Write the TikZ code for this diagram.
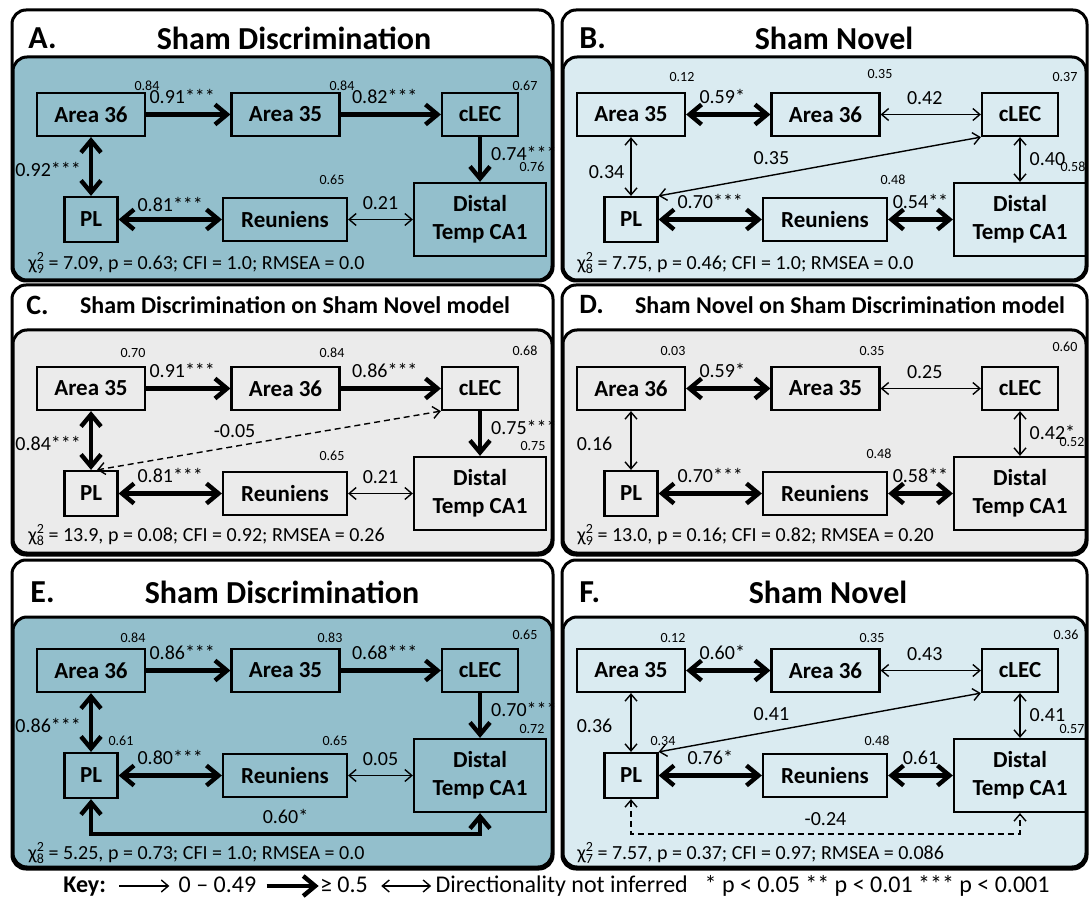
\documentclass[tikz,border=0pt]{standalone}
\usepackage{fontspec}
\setmainfont{Carlito}
\usetikzlibrary{arrows.meta,positioning}

\definecolor{discfill}{RGB}{147,191,204}
\definecolor{novelfill}{RGB}{218,235,241}
\definecolor{crossfill}{RGB}{235,235,235}

% chi-square with stacked df
\newcommand\chisq[1]{χ\rlap{\raisebox{0.8ex}{\fontsize{7}{8}\selectfont 2}}%
  \raisebox{-0.45ex}{\fontsize{7}{8}\selectfont #1}}

\tikzset{
  outerbox/.style={draw, line width=1.5pt, rounded corners=7pt, fill=white},
  modelbox/.style={draw, line width=1.5pt, rounded corners=7pt},
  region/.style={draw, line width=1.1pt, inner sep=0pt, align=center,
    font=\fontsize{11.5}{14}\selectfont\bfseries},
  areabox/.style={region, minimum width=54pt, minimum height=21.5pt},
  lecbox/.style={region, minimum width=38pt, minimum height=21.5pt},
  plbox/.style={region, minimum width=26.5pt, minimum height=22.5pt},
  reubox/.style={region, minimum width=62pt, minimum height=21.5pt},
  cabox/.style={region, minimum width=66pt, minimum height=36.5pt},
  rsq/.style={inner sep=0pt, font=\fontsize{7}{8}\selectfont},
  coef/.style={inner sep=1pt, font=\fontsize{10}{12}\selectfont},
  fitstat/.style={anchor=west, inner sep=0pt, font=\fontsize{10}{12}\selectfont},
  bigtitle/.style={inner sep=0pt, font=\fontsize{16}{19}\selectfont\bfseries},
  subtitle/.style={inner sep=0pt, font=\fontsize{12}{14}\selectfont\bfseries},
  letter/.style={anchor=west, inner sep=0pt, font=\fontsize{16}{19}\selectfont\bfseries},
  keytext/.style={inner sep=0pt, text height=8.5pt, text depth=2.5pt,
    font=\fontsize{12}{14}\selectfont},
  strong/.style={line width=2.2pt, >={Straight Barb[length=6pt,width=10pt]}},
  weak/.style={line width=0.7pt, >={Straight Barb[length=3.5pt,width=6pt]}},
  nonsig/.style={weak, dash pattern=on 3pt off 2pt},
}

\begin{document}
\begin{tikzpicture}[x=0.5pt, y=-0.5pt]
\useasboundingbox (0,0) rectangle (1089,904);

% ---- A: sham discrimination
\begin{scope}
  \draw[outerbox] (12,10) rectangle (553,281);
  \draw[modelbox, fill=discfill] (13,57) rectangle (552,280);
  \node[letter] (A-tag) at (28,38) {A.};
  \node[bigtitle] (A-title) at (294,38) {Sham Discrimination};
  \node[areabox] (A-a36) at (91,114.5) {Area 36};
  \node[areabox] (A-a35) at (285.5,114.5) {Area 35};
  \node[lecbox] (A-clec) at (480,114.5) {cLEC};
  \node[plbox] (A-pl) at (91,219.5) {PL};
  \node[reubox] (A-reu) at (285,219.5) {Reuniens};
  \node[cabox] (A-ca1) at (480,219.5) {Distal\\Temp CA1};
  \node[rsq] (A-r36) at (147,86) {0.84};
  \node[rsq] (A-r35) at (342,86) {0.84};
  \node[rsq] (A-rlec) at (525,86) {0.67};
  \node[rsq] (A-rreu) at (332,180) {0.65};
  \node[rsq] (A-rca1) at (532,167) {0.76};
  \draw[strong,->] (A-a36) -- node[coef,above=3.5pt,xshift=-3pt] {0.91***} (A-a35);
  \draw[strong,->] (A-a35) -- node[coef,above=3.5pt,xshift=-3pt] {0.82***} (A-clec);
  \draw[strong,<->] (A-a36) -- node[coef,left=3pt,pos=0.55] {0.92***} (A-pl);
  \draw[strong,->] (A-clec) -- node[coef,right=3.5pt,pos=0.37] {0.74***} (A-ca1);
  \draw[strong,<->] (A-pl) -- node[coef,above=2pt] {0.81***} (A-reu);
  \draw[weak,<->] (A-reu) -- node[coef,above=3.5pt] {0.21} (A-ca1);
  \node[fitstat] (A-fit) at (28,263) {\chisq{9} = 7.09, p = 0.63; CFI = 1.0; RMSEA = 0.0};
\end{scope}

% ---- B: sham novel
\begin{scope}[shift={(540,0)}]
  \draw[outerbox] (22,10) rectangle (547,281);
  \draw[modelbox, fill=novelfill] (23,57) rectangle (546,280);
  \node[letter] (B-tag) at (39,38) {B.};
  \node[bigtitle] (B-title) at (294,38) {Sham Novel};
  \node[areabox] (B-a35) at (91,114.5) {Area 35};
  \node[areabox] (B-a36) at (285.5,114.5) {Area 36};
  \node[lecbox] (B-clec) at (480,114.5) {cLEC};
  \node[plbox] (B-pl) at (91,219.5) {PL};
  \node[reubox] (B-reu) at (285,219.5) {Reuniens};
  \node[cabox] (B-ca1) at (480,219.5) {Distal\\Temp CA1};
  \node[rsq] (B-r35) at (142,77) {0.12};
  \node[rsq] (B-r36) at (340,74) {0.35};
  \node[rsq] (B-rlec) at (525,77) {0.37};
  \node[rsq] (B-rreu) at (353,180) {0.48};
  \node[rsq] (B-rca1) at (533,167) {0.58};
  \draw[strong,<->] (B-a35) -- node[coef,above=3.5pt,xshift=-3pt] {0.59*} (B-a36);
  \draw[weak,<->] (B-a36) -- node[coef,above=3.5pt,xshift=-3pt] {0.42} (B-clec);
  \draw[weak,<->] (B-a35) -- node[coef,left=2pt,pos=0.6] {0.34} (B-pl);
  \draw[weak,<->] (B-clec) -- node[coef,right=3.5pt,pos=0.5] {0.40} (B-ca1);
  \draw[weak,<->] (B-clec.south west) -- node[coef,above=4pt,pos=0.65] {0.35} (B-pl.north east);
  \draw[strong,<->] (B-pl) -- node[coef,above=3.5pt] {0.70***} (B-reu);
  \draw[strong,<->] (B-reu) -- node[coef,above=3.5pt] {0.54**} (B-ca1);
  \node[fitstat] (B-fit) at (37,263) {\chisq{8} = 7.75, p = 0.46; CFI = 1.0; RMSEA = 0.0};
\end{scope}

% ---- C: discrimination data on novel model
\begin{scope}[shift={(0,274)}]
  \draw[outerbox] (12,11) rectangle (553,281);
  \draw[modelbox, fill=crossfill] (13,56) rectangle (552,279);
  \node[letter, font=\fontsize{14}{17}\selectfont\bfseries] (C-tag) at (26,31) {C.};
  \node[subtitle] (C-title) at (295,31) {Sham Discrimination on Sham Novel model};
  \node[areabox] (C-a35) at (91,114.5) {Area 35};
  \node[areabox] (C-a36) at (285.5,114.5) {Area 36};
  \node[lecbox] (C-clec) at (480,114.5) {cLEC};
  \node[plbox] (C-pl) at (91,219.5) {PL};
  \node[reubox] (C-reu) at (285,219.5) {Reuniens};
  \node[cabox] (C-ca1) at (480,219.5) {Distal\\Temp CA1};
  \node[rsq] (C-r35) at (133,79) {0.70};
  \node[rsq] (C-r36) at (332,79) {0.84};
  \node[rsq] (C-rlec) at (525,77) {0.68};
  \node[rsq] (C-rreu) at (332,182) {0.65};
  \node[rsq] (C-rca1) at (533,172) {0.75};
  \draw[strong,->] (C-a35) -- node[coef,above=3.5pt,xshift=-3pt] {0.91***} (C-a36);
  \draw[strong,->] (C-a36) -- node[coef,above=3.5pt,xshift=-3pt] {0.86***} (C-clec);
  \draw[strong,<->] (C-a35) -- node[coef,left=3pt,pos=0.55] {0.84***} (C-pl);
  \draw[strong,->] (C-clec) -- node[coef,right=3.5pt,pos=0.37] {0.75***} (C-ca1);
  \draw[nonsig,<->] (C-clec.south west) -- node[coef,above=3pt,pos=0.6] {-0.05} ([xshift=3pt]C-pl.north);
  \draw[strong,<->] (C-pl) -- node[coef,above=3.5pt] {0.81***} (C-reu);
  \draw[weak,<->] (C-reu) -- node[coef,above=3.5pt] {0.21} (C-ca1);
  \node[fitstat] (C-fit) at (28,261) {\chisq{8} = 13.9, p = 0.08; CFI = 0.92; RMSEA = 0.26};
\end{scope}

% ---- D: novel data on discrimination model
\begin{scope}[shift={(540,274)}]
  \draw[outerbox] (22,11) rectangle (547,281);
  \draw[modelbox, fill=crossfill] (23,56) rectangle (546,279);
  \node[letter, font=\fontsize{14}{17}\selectfont\bfseries] (D-tag) at (39,31) {D.};
  \node[subtitle] (D-title) at (310,31) {Sham Novel on Sham Discrimination model};
  \node[areabox] (D-a36) at (91,114.5) {Area 36};
  \node[areabox] (D-a35) at (285.5,114.5) {Area 35};
  \node[lecbox] (D-clec) at (480,114.5) {cLEC};
  \node[plbox] (D-pl) at (91,219.5) {PL};
  \node[reubox] (D-reu) at (285,219.5) {Reuniens};
  \node[cabox] (D-ca1) at (480,219.5) {Distal\\Temp CA1};
  \node[rsq] (D-r36) at (133,77) {0.03};
  \node[rsq] (D-r35) at (332,77) {0.35};
  \node[rsq] (D-rlec) at (525,73) {0.60};
  \node[rsq] (D-rreu) at (339,180) {0.48};
  \node[rsq] (D-rca1) at (532,168) {0.52};
  \draw[strong,<->] (D-a36) -- node[coef,above=3.5pt,xshift=-3pt] {0.59*} (D-a35);
  \draw[weak,<->] (D-a35) -- node[coef,above=3.5pt,xshift=-3pt] {0.25} (D-clec);
  \draw[weak,<->] (D-a36) -- node[coef,left=8pt,pos=0.55] {0.16} (D-pl);
  \draw[weak,<->] (D-clec) -- node[coef,right=3.5pt,pos=0.48] {0.42*} (D-ca1);
  \draw[strong,<->] (D-pl) -- node[coef,above=3.5pt] {0.70***} (D-reu);
  \draw[strong,<->] (D-reu) -- node[coef,above=3.5pt] {0.58**} (D-ca1);
  \node[fitstat] (D-fit) at (37,261) {\chisq{9} = 13.0, p = 0.16; CFI = 0.82; RMSEA = 0.20};
\end{scope}

% ---- E: sham discrimination, with PL-CA1 path
\begin{scope}[shift={(0,556)}]
  \draw[outerbox] (12,4) rectangle (553,313);
  \draw[modelbox, fill=discfill] (13,61) rectangle (552,311);
  \node[letter] (E-tag) at (30,36) {E.};
  \node[bigtitle] (E-title) at (282,36) {Sham Discrimination};
  \node[areabox] (E-a36) at (91,114.5) {Area 36};
  \node[areabox] (E-a35) at (285.5,114.5) {Area 35};
  \node[lecbox] (E-clec) at (480,114.5) {cLEC};
  \node[plbox] (E-pl) at (91,219.5) {PL};
  \node[reubox] (E-reu) at (285,219.5) {Reuniens};
  \node[cabox] (E-ca1) at (480,219.5) {Distal\\Temp CA1};
  \node[rsq] (E-r36) at (133,82) {0.84};
  \node[rsq] (E-r35) at (330,82) {0.83};
  \node[rsq] (E-rlec) at (525,79) {0.65};
  \node[rsq] (E-rpl) at (121,185) {0.61};
  \node[rsq] (E-rreu) at (335,185) {0.65};
  \node[rsq] (E-rca1) at (532,173) {0.72};
  \coordinate (E-low) at (91,278);
  \draw[strong,->] (E-a36) -- node[coef,above=3.5pt,xshift=-3pt] {0.86***} (E-a35);
  \draw[strong,->] (E-a35) -- node[coef,above=3.5pt,xshift=-3pt] {0.68***} (E-clec);
  \draw[strong,<->] (E-a36) -- node[coef,left=3pt,pos=0.55] {0.86***} (E-pl);
  \draw[strong,->] (E-clec) -- node[coef,right=3.5pt,pos=0.37] {0.70***} (E-ca1);
  \draw[strong,<->] (E-pl) -- node[coef,above=3.5pt] {0.80***} (E-reu);
  \draw[weak,<->] (E-reu) -- node[coef,above=3.5pt] {0.05} (E-ca1);
  \draw[strong,<->] (E-pl.south) -- (E-low) -| node[coef,pos=0.25,above=3pt] {0.60*} (E-ca1.south);
  \node[fitstat] (E-fit) at (28,297) {\chisq{8} = 5.25, p = 0.73; CFI = 1.0; RMSEA = 0.0};
\end{scope}

% ---- F: sham novel, with PL-CA1 path
\begin{scope}[shift={(540,556)}]
  \draw[outerbox] (22,4) rectangle (547,313);
  \draw[modelbox, fill=novelfill] (23,61) rectangle (546,311);
  \node[letter] (F-tag) at (39,36) {F.};
  \node[bigtitle] (F-title) at (288,36) {Sham Novel};
  \node[areabox] (F-a35) at (91,114.5) {Area 35};
  \node[areabox] (F-a36) at (285.5,114.5) {Area 36};
  \node[lecbox] (F-clec) at (480,114.5) {cLEC};
  \node[plbox] (F-pl) at (91,219.5) {PL};
  \node[reubox] (F-reu) at (285,219.5) {Reuniens};
  \node[cabox] (F-ca1) at (480,219.5) {Distal\\Temp CA1};
  \node[rsq] (F-r35) at (133,82) {0.12};
  \node[rsq] (F-r36) at (332,82) {0.35};
  \node[rsq] (F-rlec) at (526,79) {0.36};
  \node[rsq] (F-rpl) at (123,185) {0.34};
  \node[rsq] (F-rreu) at (337,185) {0.48};
  \node[rsq] (F-rca1) at (532,173) {0.57};
  \coordinate (F-low) at (91,278);
  \draw[strong,<->] (F-a35) -- node[coef,above=3.5pt,xshift=-3pt] {0.60*} (F-a36);
  \draw[weak,<->] (F-a36) -- node[coef,above=3.5pt,xshift=-3pt] {0.43} (F-clec);
  \draw[weak,<->] (F-a35) -- node[coef,left=8pt,pos=0.55] {0.36} (F-pl);
  \draw[weak,<->] (F-clec) -- node[coef,right=3.5pt,pos=0.48] {0.41} (F-ca1);
  \draw[weak,<->] (F-clec.south west) -- node[coef,above=4pt,pos=0.65] {0.41} (F-pl.north east);
  \draw[strong,<->] (F-pl) -- node[coef,above=3.5pt] {0.76*} (F-reu);
  \draw[strong,<->] (F-reu) -- node[coef,above=3.5pt] {0.61} (F-ca1);
  \draw[nonsig,<->] (F-pl.south) -- (F-low) -| node[coef,pos=0.25,above=3pt] {-0.24} (F-ca1.south);
  \node[fitstat] (F-fit) at (37,297) {\chisq{7} = 7.57, p = 0.37; CFI = 0.97; RMSEA = 0.086};
\end{scope}

% ---- key
\node[keytext, anchor=west] (key) at (63,886) {\textbf{Key:}};
\node[keytext, right=36pt of key] (k-weak) {0 – 0.49};
\node[keytext, right=31.5pt of k-weak] (k-strong) {≥ 0.5};
\node[keytext, right=33.5pt of k-strong] (k-both) {Directionality not inferred};
\node[keytext, right=8pt of k-both] (k-sig) {* p < 0.05 ** p < 0.01 *** p < 0.001};
\draw[weak,->,shorten <=6.5pt,shorten >=4.5pt] (key) -- (k-weak);
\draw[strong,->,shorten <=5pt,shorten >=0.5pt] (k-weak) -- (k-strong);
\draw[weak,<->,shorten <=6.5pt,shorten >=2pt] (k-strong) -- (k-both);
\end{tikzpicture}
\end{document}
